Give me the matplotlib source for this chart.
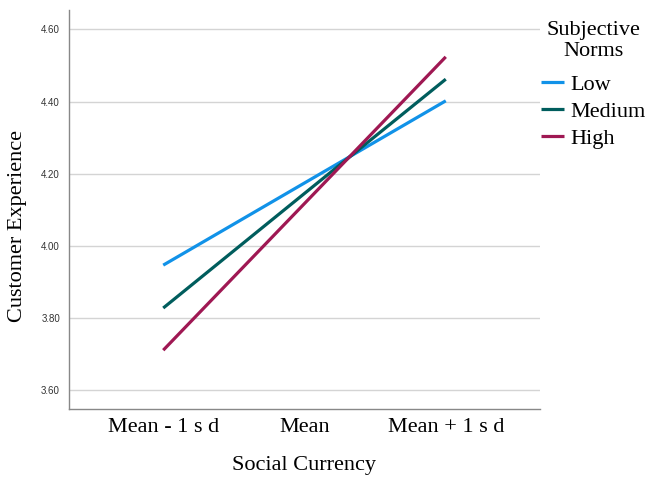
import matplotlib
matplotlib.use("Agg")
import matplotlib.pyplot as plt

categories = ["Mean - 1 s d", "Mean", "Mean + 1 s d"]
series_names = ["Low", "Medium", "High"]
low_vals = [3.946, 4.174, 4.402]
medium_vals = [3.827, 4.145, 4.462]
high_vals = [3.710, 4.117, 4.524]
yticks = [3.60, 3.80, 4.00, 4.20, 4.40, 4.60]
colors = ["#1192e8", "#005d5d", "#9f1853"]

serif = ["Liberation Serif", "DejaVu Serif"]
sans = ["Liberation Sans", "DejaVu Sans"]

fig = plt.figure(figsize=(6.49, 4.79), dpi=100)
ax = fig.add_axes([69/649, 1-409.3/479, (540-69)/649, (409.3-10)/479])

x = list(range(len(categories)))
for name, vals, c in zip(series_names, [low_vals, medium_vals, high_vals], colors):
    ax.plot(x, vals, color=c, lw=2.3, label=name, solid_capstyle="butt")

ax.set_xlim(-0.667, 2.667)
ax.set_ylim(3.546, 4.654)
ax.set_yticks(yticks)
ax.set_yticklabels([f"{v:.2f}" for v in yticks], fontfamily=sans, fontsize=7, color="#333333")
ax.set_xticks(x)
ax.set_xticklabels(categories, fontfamily=serif, fontsize=16)
ax.tick_params(axis="both", length=0)
ax.tick_params(axis="y", pad=6.5)
ax.tick_params(axis="x", pad=6)
ax.grid(axis="y", color="#d4d4d4", lw=1)
ax.set_axisbelow(True)
for s in ["top", "right"]:
    ax.spines[s].set_visible(False)
for s in ["left", "bottom"]:
    ax.spines[s].set_color("#888888")
    ax.spines[s].set_linewidth(1)

ax.set_xlabel("Social Currency", fontfamily=serif, fontsize=16, labelpad=14)
ax.set_ylabel("Customer Experience", fontfamily=serif, fontsize=16)
ax.yaxis.set_label_coords(-0.09, 0.46)

fig.text(593/649, 1-30/479, "Subjective", fontfamily=serif, fontsize=16, ha="center", va="center")
fig.text(593/649, 1-52/479, "Norms", fontfamily=serif, fontsize=16, ha="center", va="center")
leg = fig.legend(loc="upper left", bbox_to_anchor=(541/649, 1-74/479), frameon=False,
                 prop={"family": serif, "size": 16}, handlelength=1.05, handletextpad=0.25,
                 labelspacing=0.3, borderaxespad=0, borderpad=0)

fig.savefig("out.png", dpi=100)
